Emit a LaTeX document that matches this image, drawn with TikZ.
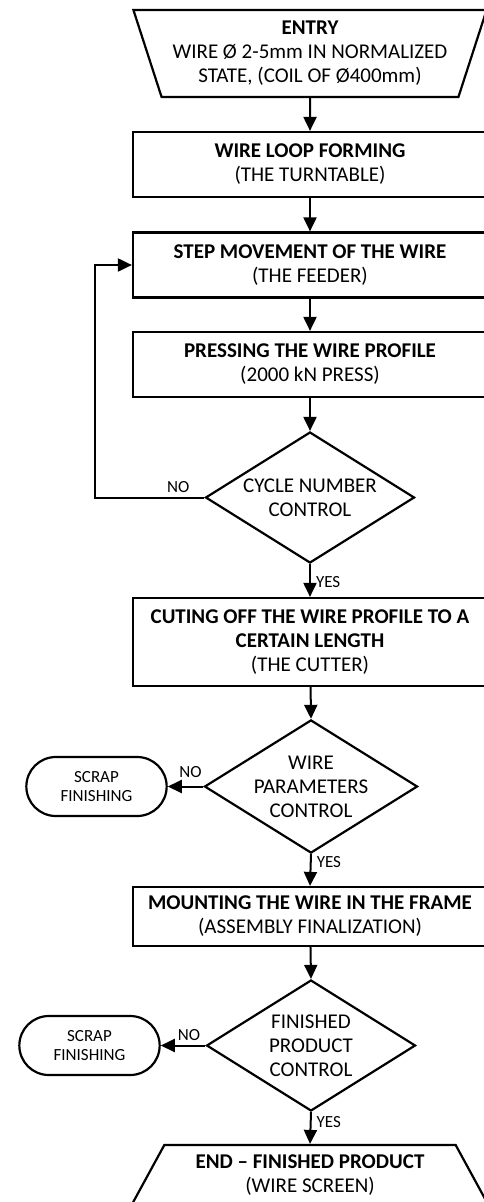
\documentclass[tikz,border=0pt]{standalone}
\usepackage{fontspec}
\setmainfont{Carlito}
\usetikzlibrary{shapes.geometric,shapes.misc,arrows.meta}

\tikzset{
  procbox/.style={draw, line width=2.2pt, rectangle, minimum width=354pt, minimum height=65pt, align=center, font=\fontsize{21}{24}\selectfont},
  iobox/.style={draw, line width=2.2pt, trapezium, trapezium stretches=true, inner sep=0pt, align=center, font=\fontsize{21}{24}\selectfont},
  decision/.style={draw, line width=2.2pt, diamond, aspect=1.6, inner sep=0pt, minimum width=209pt, minimum height=131pt, align=center, font=\fontsize{21}{24}\selectfont},
  scrapbox/.style={draw, line width=2.2pt, rounded rectangle, minimum width=147pt, minimum height=59pt, align=center, font=\fontsize{17}{19}\selectfont},
  flow/.style={line width=2pt, -{Triangle[length=14pt,width=13pt]}},
  answer/.style={font=\fontsize{17}{19}\selectfont, inner sep=2pt}
}

\begin{document}
\begin{tikzpicture}[x=1pt,y=-1pt]
\useasboundingbox (0,0) rectangle (484,1202);
\clip (0,0) rectangle (484,1202);
% Entry and main steps
\node[iobox, shape border rotate=180, trapezium angle=68, minimum width=354pt, minimum height=87pt] (entry) at (310,53.5)
  {{\bfseries ENTRY}\\WIRE Ø 2-5mm IN NORMALIZED\\STATE, (COIL OF Ø400mm)};
\node[procbox] (loop) at (310,164.5) {{\bfseries WIRE LOOP FORMING}\\(THE TURNTABLE)};
\node[procbox] (feed) at (310,265) {{\bfseries STEP MOVEMENT OF THE WIRE}\\(THE FEEDER)};
\node[procbox] (press) at (310,364.5) {{\bfseries PRESSING THE WIRE PROFILE}\\(2000 kN PRESS)};
\node[decision] (cycle) at (310,497.5) {CYCLE NUMBER\\CONTROL};
\node[procbox, minimum height=88pt] (cut) at (310,642)
  {{\bfseries CUTING OFF THE WIRE PROFILE TO A}\\{\bfseries CERTAIN LENGTH}\\(THE CUTTER)};
\node[decision] (wirechk) at (311,786.5) {WIRE\\PARAMETERS\\CONTROL};
\node[scrapbox] (scrapa) at (96.5,786.5) {SCRAP\\FINISHING};
\node[procbox, minimum height=59pt] (mount) at (310,916.5)
  {{\bfseries MOUNTING THE WIRE IN THE FRAME}\\(ASSEMBLY FINALIZATION)};
\node[decision] (prodchk) at (311,1045.5) {FINISHED\\PRODUCT\\CONTROL};
\node[scrapbox] (scrapb) at (89.5,1045.5) {SCRAP\\FINISHING};
\node[iobox, trapezium angle=57.7, minimum width=358pt, minimum height=60pt] (product) at (310,1175)
  {{\bfseries END -- FINISHED PRODUCT}\\(WIRE SCREEN)};
% Connectors
\draw[flow] (entry.south) -- (loop.north);
\draw[flow] (loop) -- (feed);
\draw[flow] (feed) -- (press);
\draw[flow] (press) -- (cycle.north);
\draw[flow] (cycle.west) -- node[answer, above, pos=0.24, yshift=2pt] {NO} ++(-109,0) |- (feed.west);
\draw[flow] (cycle.south) -- node[answer, right, pos=0.55, xshift=3pt] {YES} (cut.north);
\draw[flow] (cut) -- (wirechk.north);
\draw[flow] (wirechk.west) -- node[answer, above, yshift=6pt, xshift=5pt] {NO} (scrapa.east);
\draw[flow] (wirechk.south) -- node[answer, right, pos=0.25, xshift=3pt] {YES} (mount.north);
\draw[flow] (mount) -- (prodchk.north);
\draw[flow] (prodchk.west) -- node[answer, above, xshift=6pt, yshift=2pt] {NO} (scrapb.east);
\draw[flow] (prodchk.south) -- node[answer, right, pos=0.3, xshift=3pt] {YES} (product.north);
\end{tikzpicture}
\end{document}
